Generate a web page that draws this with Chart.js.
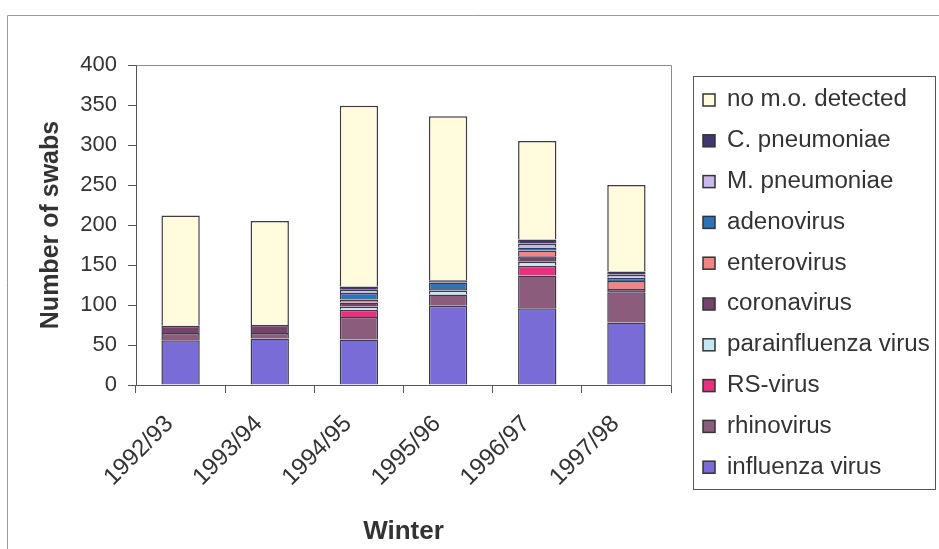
<!DOCTYPE html>
<html>
<head>
<meta charset="utf-8">
<script src="https://cdn.jsdelivr.net/npm/chart.js@4"></script>
<style>
  html, body { margin: 0; padding: 0; background: #ffffff; }
  #wrap { width: 939px; height: 549px; position: relative; }
</style>
</head>
<body>
<div id="wrap"><canvas id="chart" width="939" height="549"></canvas></div>
<script>
// Winters (x categories)
const winters = ['1992/93', '1993/94', '1994/95', '1995/96', '1996/97', '1997/98'];

// Number of swabs per finding, stacked bottom to top
const influenza     = [56, 58, 57, 99, 96, 78];
const rhinovirus    = [9, 7, 28, 14, 41, 38];
const rsVirus       = [0, 0, 9, 0, 12, 0];
const parainfluenza = [0, 0, 4, 5, 5, 0];
const coronavirus   = [9, 10, 5, 2, 7, 4];
const enterovirus   = [0, 0, 4, 0, 7, 10];
const adenovirus    = [0, 0, 8, 8, 4, 4];
const mPneumoniae   = [0, 0, 4, 0, 5, 4];
const cPneumoniae   = [0, 0, 4, 3, 5, 4];
const noOrganism    = [138, 130, 226, 205, 123, 108];

// Y axis ticks
const yTicks = [0, 50, 100, 150, 200, 250, 300, 350, 400];

const seriesLabels = ['influenza virus', 'rhinovirus', 'RS-virus', 'parainfluenza virus', 'coronavirus',
  'enterovirus', 'adenovirus', 'M. pneumoniae', 'C. pneumoniae', 'no m.o. detected'];
const seriesData = [influenza, rhinovirus, rsVirus, parainfluenza, coronavirus,
  enterovirus, adenovirus, mPneumoniae, cPneumoniae, noOrganism];
const seriesColors = ['#7a6cd6', '#8c5c7c', '#e8307e', '#c2e8f4', '#74446a',
  '#f28484', '#2e72b8', '#c8b8ee', '#40386c', '#fffbdc'];

const FONT = '"Liberation Sans", Arial, sans-serif';

// Frame around the figure, border of the plot area and the boxed legend
const decorations = {
  id: 'decorations',
  beforeDraw(chart) {
    const ctx = chart.ctx;
    ctx.save();
    ctx.fillStyle = '#ffffff';
    ctx.fillRect(0, 0, chart.width, chart.height);
    ctx.strokeStyle = '#9a9a9a';
    ctx.lineWidth = 1;
    ctx.beginPath();
    ctx.moveTo(7.5, chart.height);
    ctx.lineTo(7.5, 15.5);
    ctx.lineTo(chart.width, 15.5);
    ctx.stroke();
    ctx.restore();
  },
  afterDatasetsDraw(chart) {
    const ctx = chart.ctx;
    const a = chart.chartArea;
    ctx.save();
    ctx.strokeStyle = '#8a8a8a';
    ctx.lineWidth = 1;
    ctx.beginPath();
    ctx.moveTo(Math.round(a.left) + 0.5, Math.round(a.top) + 0.5);
    ctx.lineTo(Math.round(a.right) + 0.5, Math.round(a.top) + 0.5);
    ctx.lineTo(Math.round(a.right) + 0.5, Math.round(a.bottom) + 0.5);
    ctx.stroke();
    ctx.restore();
  },
  afterDraw(chart) {
    const ctx = chart.ctx;
    const box = { x: 693.5, y: 76.5, w: 242, h: 413 };
    ctx.save();
    ctx.strokeStyle = '#555555';
    ctx.lineWidth = 1;
    ctx.strokeRect(box.x, box.y, box.w, box.h);
    const items = chart.data.datasets.map(d => ({ label: d.label, color: d.backgroundColor })).reverse();
    const step = 40.8;
    items.forEach((it, i) => {
      const cy = 100 + i * step;
      ctx.fillStyle = it.color;
      ctx.fillRect(703, cy - 6, 12, 12);
      ctx.strokeStyle = '#333333';
      ctx.lineWidth = 1.5;
      ctx.strokeRect(703, cy - 6, 12, 12);
      ctx.save();
      ctx.translate(727, cy);
      ctx.scale(1.05, 1);
      ctx.fillStyle = '#333333';
      ctx.font = '23px ' + FONT;
      ctx.textBaseline = 'middle';
      ctx.textAlign = 'left';
      ctx.fillText(it.label, 0, 0);
      ctx.restore();
    });
    ctx.restore();
  }
};

new Chart(document.getElementById('chart'), {
  type: 'bar',
  data: {
    labels: winters,
    datasets: seriesLabels.map((label, i) => ({
      label,
      data: seriesData[i],
      backgroundColor: seriesColors[i],
      borderColor: '#3c3a48',
      borderWidth: 1.5,
      categoryPercentage: 1,
      barPercentage: 0.43
    }))
  },
  options: {
    responsive: false,
    animation: false,
    devicePixelRatio: 1,
    layout: { padding: { left: 36, top: 65, right: 268, bottom: 2 } },
    plugins: {
      legend: { display: false },
      tooltip: { enabled: false }
    },
    scales: {
      x: {
        stacked: true,
        afterFit(scale) { scale.height = 162; },
        grid: { drawOnChartArea: false, offset: true, tickLength: 8, color: '#555555' },
        border: { color: '#555555', width: 1 },
        ticks: {
          color: '#333333',
          font: { family: FONT, size: 24 },
          minRotation: 45,
          maxRotation: 45,
          padding: 17,
          labelOffset: -11
        },
        title: {
          display: true,
          text: 'Winter',
          color: '#333333',
          font: { family: FONT, size: 26, weight: 'bold' },
          padding: { top: 0, bottom: 0 }
        }
      },
      y: {
        stacked: true,
        min: 0,
        max: 400,
        afterFit(scale) { scale.width = 100; },
        afterBuildTicks(scale) { scale.ticks = yTicks.map(v => ({ value: v })); },
        grid: { drawOnChartArea: false, tickLength: 8, color: '#555555' },
        border: { color: '#555555', width: 1 },
        ticks: {
          color: '#333333',
          font: { family: FONT, size: 22 },
          padding: 11
        },
        title: {
          display: true,
          text: 'Number of swabs',
          color: '#333333',
          font: { family: FONT, size: 25, weight: 'bold' },
          padding: { top: 0, bottom: 0 }
        }
      }
    }
  },
  plugins: [decorations]
});
</script>
</body>
</html>
